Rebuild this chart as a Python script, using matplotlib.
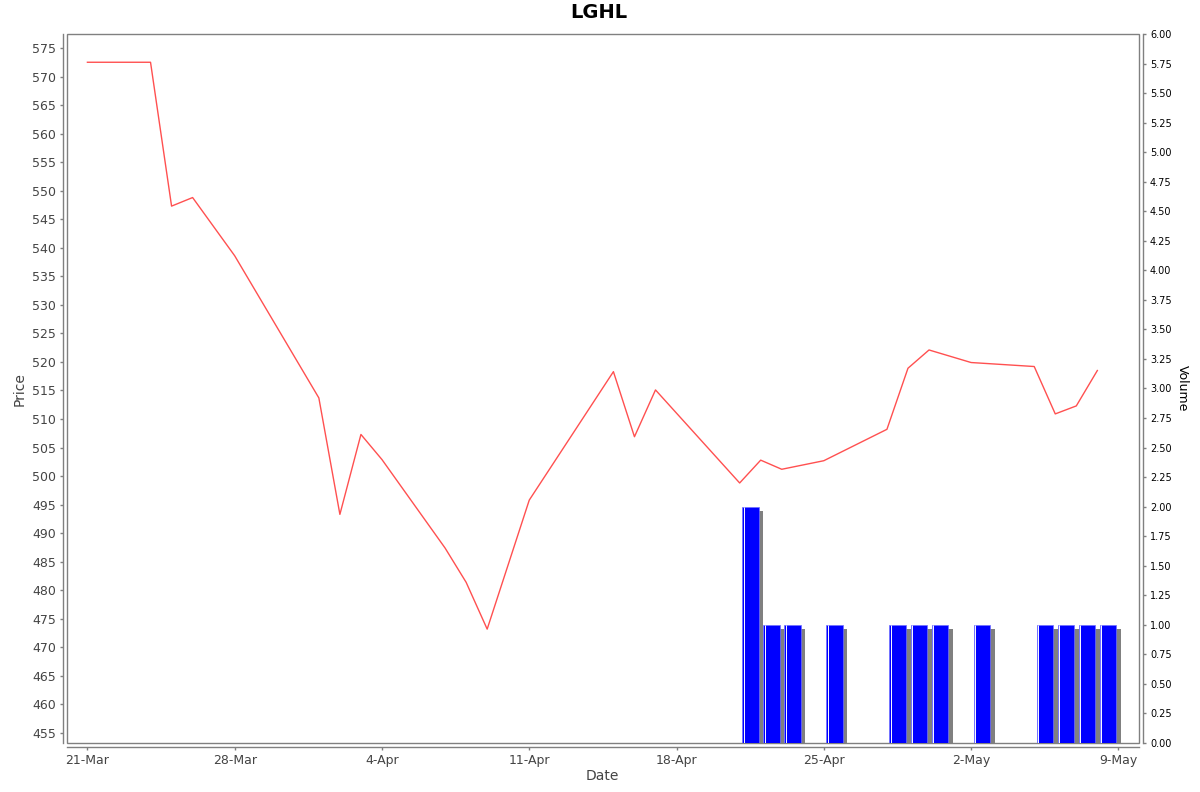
import datetime as dt
import matplotlib
matplotlib.use("Agg")
import matplotlib.pyplot as plt
import matplotlib.dates as mdates
from matplotlib.patches import Rectangle
from matplotlib.ticker import MultipleLocator, FormatStrFormatter, FuncFormatter

# daily close and volume
dates = ["2025-03-21", "2025-03-24", "2025-03-25", "2025-03-26", "2025-03-28",
         "2025-04-01", "2025-04-02", "2025-04-03", "2025-04-04", "2025-04-07",
         "2025-04-08", "2025-04-09", "2025-04-11", "2025-04-15", "2025-04-16",
         "2025-04-17", "2025-04-21", "2025-04-22", "2025-04-23", "2025-04-25",
         "2025-04-28", "2025-04-29", "2025-04-30", "2025-05-02", "2025-05-05",
         "2025-05-06", "2025-05-07", "2025-05-08"]
prices = [572.5, 572.5, 547.3, 548.8, 538.6,
          513.7, 493.3, 507.3, 502.9, 487.4,
          481.4, 473.2, 495.8, 518.3, 506.9,
          515.1, 498.8, 502.8, 501.2, 502.7,
          508.2, 518.9, 522.1, 519.9, 519.2,
          510.9, 512.3, 518.5]
volumes = [0, 0, 0, 0, 0,
           0, 0, 0, 0, 0,
           0, 0, 0, 0, 0,
           0, 2, 1, 1, 1,
           1, 1, 1, 1, 1,
           1, 1, 1]
title = "LGHL"

x = [mdates.date2num(dt.datetime.strptime(d, "%Y-%m-%d")) for d in dates]

W, H = 1200, 792
fig = plt.figure(figsize=(W / 100, H / 100), dpi=100)
L, R, T, B = 67, 1139, 34, 743
ax = fig.add_axes([L / W, 1 - B / H, (R - L) / W, (B - T) / H])
ax2 = ax.twinx()

gray = "#808080"
txt = "#444444"

# price line
ax.plot(x, prices, color="#ff5050", lw=1.0, zorder=3)

# volume bars with drop shadow
px_day = (R - L) / ((mdates.date2num(dt.datetime(2025, 5, 9)) + 0.98) -
                    (mdates.date2num(dt.datetime(2025, 3, 21)) - 0.97))
bx = [xi for xi, v in zip(x, volumes) if v > 0]
bv = [v for v in volumes if v > 0]
sh = 4.5 / px_day
ax2.bar([b + 0.12 + sh for b in bx], [v - 4 / 118 for v in bv], width=0.79,
        align="edge", color=gray, lw=0, zorder=1)
ax2.bar([b + 0.12 for b in bx], bv, width=0.79, align="edge",
        color="#0000ff", edgecolor="#7070ff", lw=0.5, zorder=2)
ax2.vlines([b + 0.12 + 1.5 / px_day for b in bx], 0, bv, color="white",
           lw=0.7, zorder=3)

ax.set_xlim(mdates.date2num(dt.datetime(2025, 3, 21)) - 0.97,
            mdates.date2num(dt.datetime(2025, 5, 9)) + 0.98)
ax.set_ylim(453.25, 577.45)
ax2.set_ylim(0, 6)

# ticks
ax.yaxis.set_major_locator(MultipleLocator(5))
ax.yaxis.set_major_formatter(FormatStrFormatter("%d"))
ticks = [mdates.date2num(dt.datetime(2025, 3, 21) + dt.timedelta(days=7 * i)) for i in range(8)]
ax.set_xticks(ticks)
ax.xaxis.set_major_formatter(FuncFormatter(
    lambda v, p: f"{mdates.num2date(v).day}-{mdates.num2date(v).strftime('%b')}"))
ax2.yaxis.set_major_locator(MultipleLocator(0.25))
ax2.yaxis.set_major_formatter(FormatStrFormatter("%.2f"))

ax.tick_params(axis="both", direction="out", length=2, width=1, color=gray,
               labelsize=9, labelcolor=txt, pad=3)
ax2.tick_params(axis="y", direction="out", length=2, width=1, color=gray,
                labelsize=7, labelcolor="black", pad=3)

# spines: offset axis lines plus a plain border around the plot
for s in ["top", "right"]:
    ax.spines[s].set_visible(False)
for s in ["top", "left", "bottom"]:
    ax2.spines[s].set_visible(False)
for sp, a in [("left", ax), ("bottom", ax), ("right", ax2)]:
    a.spines[sp].set_position(("outward", 2.9))
    a.spines[sp].set_color(gray)
    a.spines[sp].set_linewidth(1)
ax.add_patch(Rectangle((0, 0), 1, 1, transform=ax.transAxes, fill=False,
                       edgecolor=gray, lw=1, clip_on=False, zorder=5))

fig.text(599 / W, 1 - 13 / H, title, ha="center", va="center",
         fontsize=14, fontweight="bold")
fig.text(602 / W, 1 - 776 / H, "Date", ha="center", va="center",
         fontsize=10, color=txt)
fig.text(20 / W, 1 - 389 / H, "Price", ha="center", va="center",
         fontsize=10, color=txt, rotation=90)
fig.text(1182 / W, 1 - 388 / H, "Volume", ha="center", va="center",
         fontsize=9, color="black", rotation=270)

fig.savefig("out.png", dpi=100)
